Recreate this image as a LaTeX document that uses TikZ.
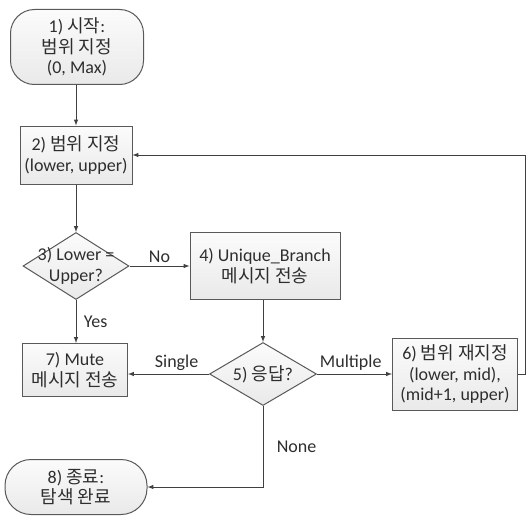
\documentclass[tikz,border=0pt]{standalone}
\usepackage{fontspec}
\setmainfont{Carlito}
\newfontfamily\hangul{Noto Sans CJK KR}
\usetikzlibrary{shapes.geometric}

\tikzset{
  base/.style={draw=gray!70!black, line width=1pt, top color=gray!3, bottom color=gray!17,
    text=black!82, font=\fontsize{18}{20.5}\selectfont, align=center},
  terminal/.style={base, rectangle, rounded corners=24pt},
  process/.style={base, rectangle},
  decision/.style={base, diamond, inner sep=-18pt},
  flow/.style={draw=black!75, line width=1pt, -latex},
  lbl/.style={text=black!82, font=\fontsize{18}{20.5}\selectfont}
}

\begin{document}
\begin{tikzpicture}[x=1pt, y=-1pt]

    \useasboundingbox (0,0) rectangle (526,516);

    \node[terminal, minimum width=133pt, minimum height=75pt] (start) at (77,47)
      {1) {\hangul 시작}:\\{\hangul 범위 지정}\\(0, Max)};

    \node[process, minimum width=112pt, minimum height=58pt] (range) at (76,155)
      {2) {\hangul 범위 지정}\\(lower, upper)};

    \node[decision, minimum width=106pt, minimum height=67pt] (equal) at (76,266)
      {3) Lower =\\Upper?};

    \node[process, minimum width=150pt, minimum height=67pt] (unique) at (265,266)
      {4) Unique\_Branch\\{\hangul 메시지 전송}};

    \node[decision, minimum width=107pt, minimum height=63pt] (reply) at (263,374)
      {5) {\hangul 응답}?};

    \node[process, minimum width=125pt, minimum height=72pt] (split) at (455,374)
      {6) {\hangul 범위 재지정}\\(lower, mid),\\(mid+1, upper)};

    \node[process, minimum width=105pt, minimum height=53pt] (mute) at (75,370)
      {7) Mute\\{\hangul 메시지 전송}};

    \node[terminal, minimum width=142pt, minimum height=55pt, rounded corners=26pt] (stop) at (76,487)
      {8) {\hangul 종료}:\\{\hangul 탐색 완료}};



    \draw[flow] (start.south -| range.north) -- (range);

    \draw[flow] (range) -- (equal);

    \draw[flow] (equal) -- node[lbl, above] (no) {No} (unique);

    \draw[flow] (equal.south) -- node[lbl, right=4pt] (yes) {Yes} (equal.south |- mute.north);

    \draw[flow] (unique.south -| reply.north) -- (reply);

    \draw[flow] (reply.west) -- node[lbl, above, pos=0.4] (single) {Single} (mute.east |- reply.west);

    \draw[flow] (reply) -- node[lbl, above, pos=0.45] (multiple) {Multiple} (split);

    \draw[flow] (reply.south) |- node[lbl, right=10pt, pos=0.25] (none) {None} (stop.east);

    \draw[flow] (split.east) -- ++(7,0) |- (range.east);

\end{tikzpicture}
\end{document}
